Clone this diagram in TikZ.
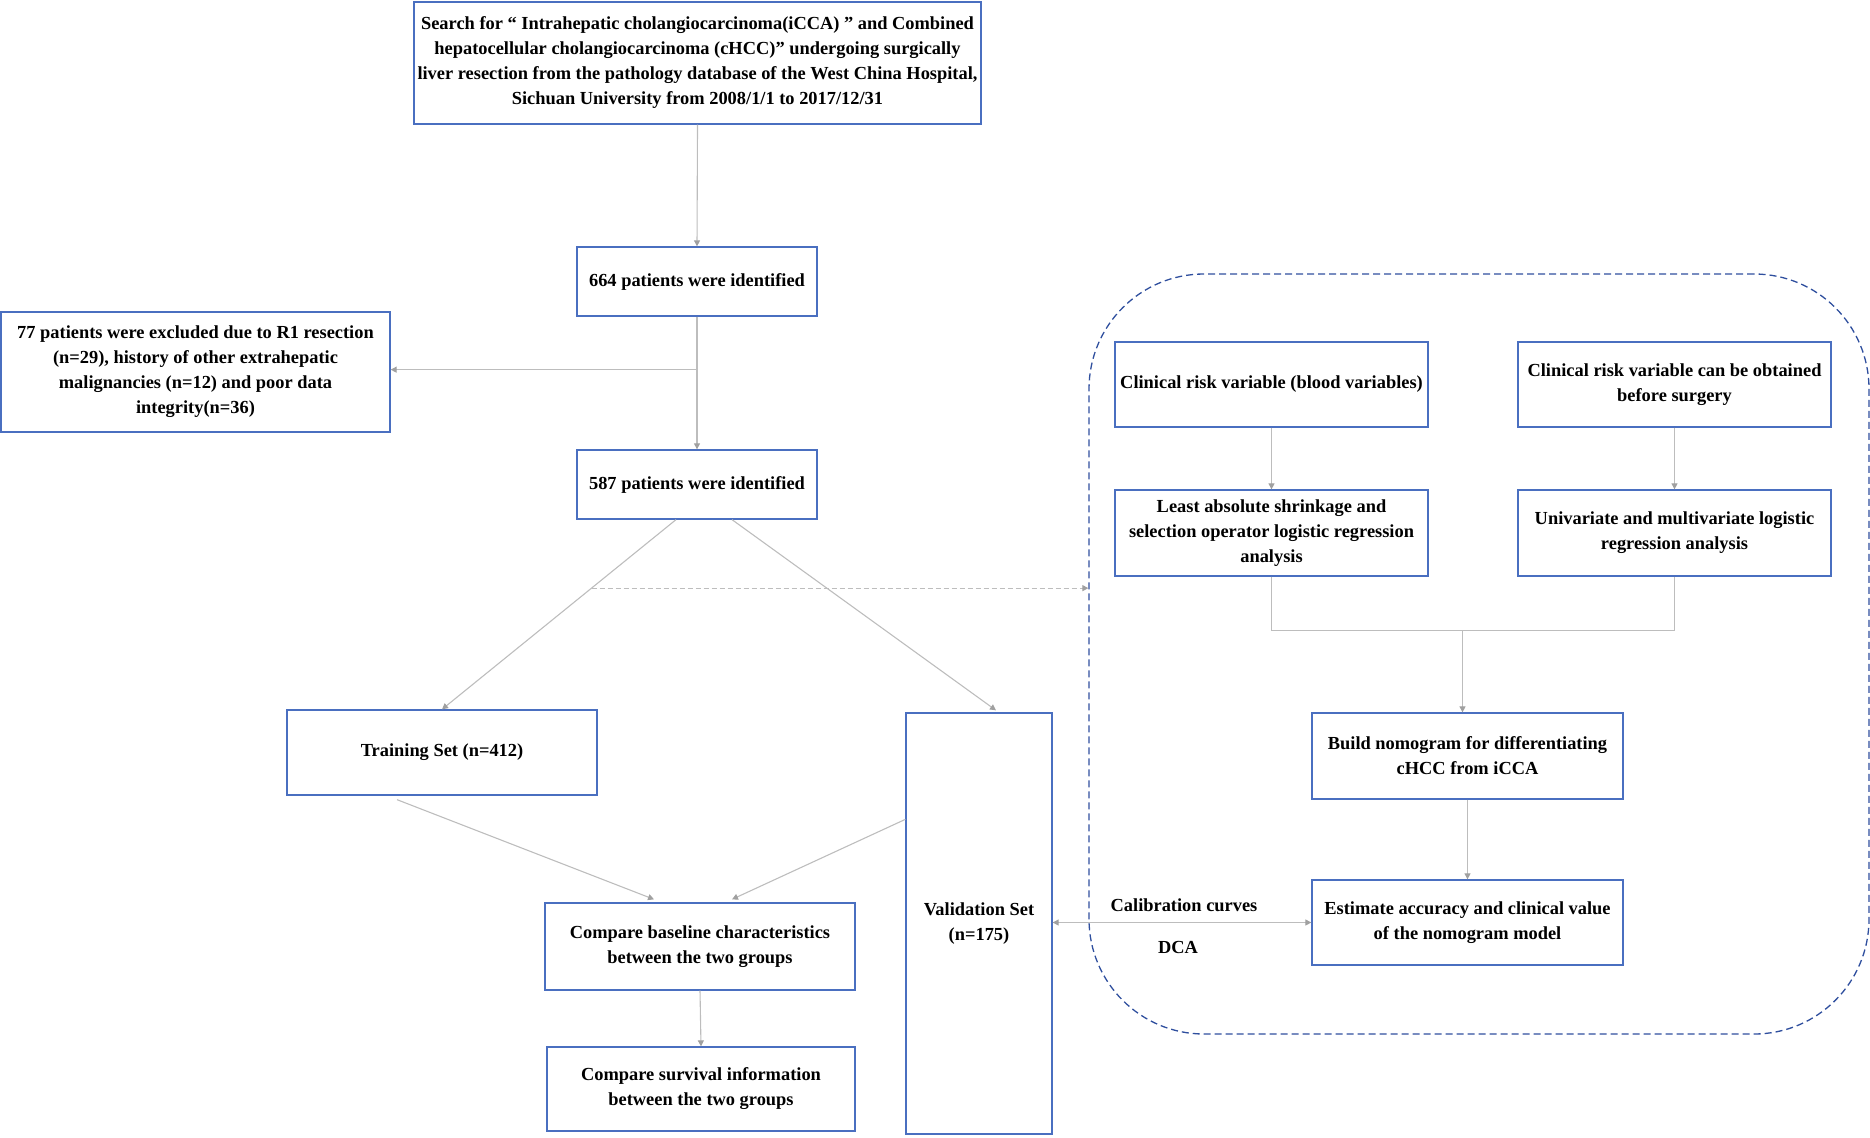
\documentclass[tikz,border=0pt]{standalone}
\usepackage{fontspec}
\setmainfont{Liberation Serif}
\usetikzlibrary{arrows.meta,calc}
\definecolor{boxblue}{HTML}{4A6FC0}
\definecolor{regblue}{HTML}{2F4F9E}
\definecolor{lnk}{HTML}{BDBDBD}
\definecolor{tipc}{HTML}{A0A0A0}
\tikzset{
  box/.style={draw=boxblue, line width=1.3pt, align=center, inner sep=2pt,
    font=\fontsize{18.4}{25}\selectfont\bfseries},
  lbl/.style={align=center, inner sep=0pt, font=\fontsize{18.4}{25}\selectfont\bfseries},
  link/.style={draw=lnk, line width=1.1pt},
  arr/.style={link, -{Triangle[width=6pt,length=6pt,fill=tipc,color=tipc]}},
  darr/.style={link, {Triangle[width=6pt,length=6pt,fill=tipc,color=tipc]}-{Triangle[width=6pt,length=6pt,fill=tipc,color=tipc]}},
  dasharr/.style={draw=lnk, line width=1.1pt, dash pattern=on 5pt off 3pt, -{Triangle[width=6pt,length=6pt,fill=tipc,color=tipc]}},
  region/.style={draw=regblue, line width=1.3pt, dash pattern=on 7pt off 4pt, rounded corners=115pt}
}
\begin{document}
\begin{tikzpicture}[x=1pt,y=-1pt]
\useasboundingbox (0,0) rectangle (1870,1137);
% region
\node[region, minimum width=780pt, minimum height=760pt] (reg) at (1479,654) {};
% left column
\node[box, minimum width=567pt, minimum height=122pt] (top) at (697.5,63)
 {Search for “ Intrahepatic cholangiocarcinoma(iCCA) ” and Combined\\
  hepatocellular cholangiocarcinoma (cHCC)” undergoing surgically\\
  liver resection from the pathology database of the West China Hospital,\\
  Sichuan University from 2008/1/1 to 2017/12/31};
\node[box, minimum width=240pt, minimum height=69pt] (n664) at (697,281.5) {664 patients were identified};
\node[box, minimum width=389pt, minimum height=120pt] (n77) at (195.5,372)
 {77 patients were excluded due to R1 resection\\
  (n=29), history of other extrahepatic\\
  malignancies (n=12) and poor data\\
  integrity(n=36)};
\node[box, minimum width=240pt, minimum height=69pt] (n587) at (697,484.5) {587 patients were identified};
\node[box, minimum width=310pt, minimum height=85pt] (train) at (442,752.5) {Training Set (n=412)};
\node[box, minimum width=146pt, minimum height=421pt] (valid) at (979,923.5) {Validation Set\\(n=175)};
\node[box, minimum width=310pt, minimum height=87pt] (base) at (700,946.5) {Compare baseline characteristics\\between the two groups};
\node[box, minimum width=308pt, minimum height=84pt] (surv) at (701,1089) {Compare survival information\\between the two groups};
% right column
\node[box, minimum width=313pt, minimum height=85pt] (blood) at (1271.5,384.5) {Clinical risk variable (blood variables)};
\node[box, minimum width=313pt, minimum height=85pt] (obt) at (1674.5,384.5) {Clinical risk variable can be obtained\\before surgery};
\node[box, minimum width=313pt, minimum height=86pt] (lasso) at (1271.5,533) {Least absolute shrinkage and\\selection operator logistic regression\\analysis};
\node[box, minimum width=313pt, minimum height=86pt] (uni) at (1674.5,533) {Univariate and multivariate logistic\\regression analysis};
\node[box, minimum width=311pt, minimum height=86pt] (build) at (1467.5,756) {Build nomogram for differentiating\\cHCC from iCCA};
\node[box, minimum width=311pt, minimum height=85pt] (est) at (1467.5,922.5) {Estimate accuracy and clinical value\\of the nomogram model};
\node[lbl] (cal) at (1184,905) {Calibration curves};
\node[lbl] (dca) at (1178,947) {DCA};
% connectors
\draw[arr] (top.south) -- (n664.north);
\draw[arr] (n664.south) -- (n587.north);
\coordinate (br) at ($(n664.south)+(0,53)$);
\draw[arr] (br) -- (br -| n77.east);
\coordinate (s1) at ($(n587.south)+(-21,0)$);
\coordinate (s2) at ($(n587.south)+(35,0)$);
\draw[arr] (s1) -- (train.north);
\draw[arr] (s2) -- ($(valid.north)+(17,-2)$);
\coordinate (ds) at ($(s1)!0.361!(train.north)$);
\draw[dasharr] (ds) -- (ds -| reg.west);
\draw[arr] ($(train.south)+(-45,4)$) -- ($(base.north)+(-46,-3)$);
\draw[arr] ($(valid.north west)+(0,107)$) -- ($(base.north)+(32,-3)$);
\draw[arr] (base.south) -- (surv.north);
\draw[arr] (blood.south) -- (lasso.north);
\draw[arr] (obt.south) -- (uni.north);
\coordinate (mg) at ($(lasso.south)+(0,54)$);
\draw[link] (lasso.south) -- (mg) -- (mg -| uni.south) -- (uni.south);
\coordinate (bt) at ($(build.north)+(-5,0)$);
\draw[arr] (mg -| bt) -- (bt);
\draw[arr] (build.south) -- (est.north);
\draw[darr] (valid.east |- est.west) -- (est.west);
\end{tikzpicture}
\end{document}
